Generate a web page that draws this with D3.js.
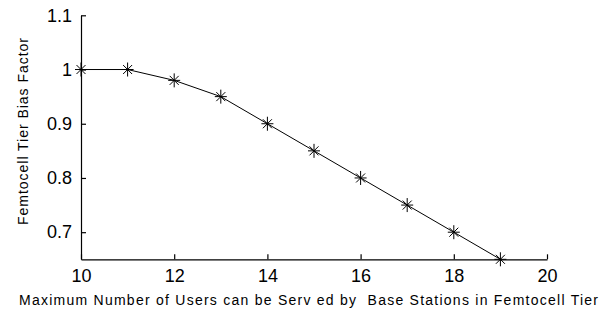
<!DOCTYPE html>
<html>
<head>
<meta charset="utf-8">
<script src="https://cdn.jsdelivr.net/npm/d3@7"></script>
<style>
  body { margin: 0; background: #fff; }
  svg { display: block; }
  text { font-family: "Liberation Sans", Arial, sans-serif; fill: #000; }
</style>
</head>
<body>
<div id="chart"></div>
<script>
// data
const users = [10, 11, 12, 13, 14, 15, 16, 17, 18, 19]
const bias = [1, 1, 0.98, 0.95, 0.9, 0.85, 0.8, 0.75, 0.7, 0.65]
const xTicks = [10, 12, 14, 16, 18, 20]
const yTicks = [0.7, 0.8, 0.9, 1, 1.1]
const xTitle = "Maximum Number of Users can be Serv ed by  Base Stations in Femtocell Tier"
const yTitle = "Femtocell Tier Bias Factor"

const width = 613, height = 313

const svg = d3.select("#chart")
  .append("svg")
    .attr("width", width)
    .attr("height", height)

const x = d3.scaleLinear()
  .domain([10, 20])
  .range([81, 547])

const y = d3.scaleLinear()
  .domain([0.65, 1.1])
  .range([259.3, 15.3])

// x axis, ticks point inward
svg.append("g")
  .attr("transform", `translate(0,${y(0.65)})`)
  .call(d3.axisBottom(x)
    .tickValues(xTicks)
    .tickFormat(d3.format("d"))
    .tickSizeInner(-5)
    .tickSizeOuter(0)
    .tickPadding(10))

// y axis
svg.append("g")
  .attr("transform", `translate(${x(10)},0)`)
  .call(d3.axisLeft(y)
    .tickValues(yTicks)
    .tickFormat(d => d3.format("")(d))
    .tickSizeInner(-5)
    .tickSizeOuter(0)
    .tickPadding(9))

svg.selectAll(".tick text")
  .style("font-family", "'Liberation Sans', Arial, sans-serif")
  .style("font-size", "18px")
  .attr("fill", "#000")
svg.selectAll(".domain, .tick line")
  .attr("stroke", "#000")
  .attr("stroke-width", 1.2)

// line
const line = d3.line()
  .x((d, i) => x(users[i]))
  .y(d => y(d))

svg.append("path")
  .datum(bias)
  .attr("fill", "none")
  .attr("stroke", "#000")
  .attr("stroke-width", 1)
  .attr("d", line)

// asterisk markers
const star = "M-6,0L6,0M0,-7L0,7M-4.5,-4.5L4.5,4.5M-4.5,4.5L4.5,-4.5"
svg.append("g")
  .selectAll("path")
  .data(bias)
  .join("path")
    .attr("transform", (d, i) => `translate(${x(users[i])},${y(d)})`)
    .attr("d", star)
    .attr("fill", "none")
    .attr("stroke", "#000")
    .attr("stroke-width", 1)

// titles
svg.append("text")
  .attr("x", 308.5)
  .attr("y", 305)
  .attr("text-anchor", "middle")
  .attr("textLength", 579)
  .attr("lengthAdjust", "spacing")
  .style("font-size", "14px")
  .style("white-space", "pre")
  .text(xTitle)

svg.append("text")
  .attr("transform", "translate(28,131.5) rotate(-90)")
  .attr("text-anchor", "middle")
  .attr("textLength", 187)
  .attr("lengthAdjust", "spacing")
  .style("font-size", "14px")
  .text(yTitle)
</script>
</body>
</html>
